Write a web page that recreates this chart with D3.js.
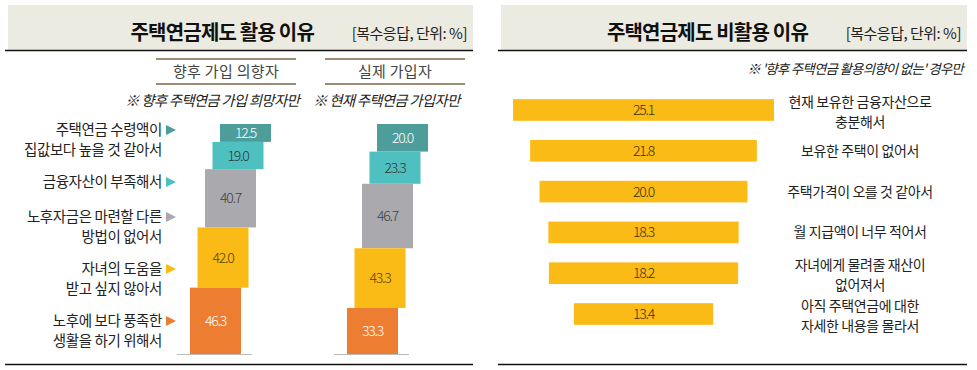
<!DOCTYPE html>
<html>
<head>
<meta charset="utf-8">
<script src="https://cdn.jsdelivr.net/npm/d3@7"></script>
<style>
  body { margin: 0; background: #fff; }
  svg { display: block; font-family: "Noto Sans CJK KR", "Noto Sans", sans-serif; }
</style>
</head>
<body>
<svg id="chart" width="977" height="370"></svg>
<script>
// left panel data
const useReasons = [
  ["주택연금 수령액이", "집값보다 높을 것 같아서"],
  ["금융자산이 부족해서"],
  ["노후자금은 마련할 다른", "방법이 없어서"],
  ["자녀의 도움을", "받고 싶지 않아서"],
  ["노후에 보다 풍족한", "생활을 하기 위해서"]
];
const groups = ["향후 가입 의향자", "실제 가입자"];
const groupNotes = ["※ 향후 주택연금 가입 희망자만", "※ 현재 주택연금 가입자만"];
const futureValues = [12.5, 19.0, 40.7, 42.0, 46.3];
const actualValues = [20.0, 23.3, 46.7, 43.3, 33.3];

// right panel data
const nonUseReasons = [
  ["현재 보유한 금융자산으로", "충분해서"],
  ["보유한 주택이 없어서"],
  ["주택가격이 오를 것 같아서"],
  ["월 지급액이 너무 적어서"],
  ["자녀에게 물려줄 재산이", "없어져서"],
  ["아직 주택연금에 대한", "자세한 내용을 몰라서"]
];
const nonUseValues = [25.1, 21.8, 20.0, 18.3, 18.2, 13.4];

const colors = ["#4d9e9b", "#4fc0c0", "#a9a9ae", "#fbbb16", "#ed7d31"];
const valueColors = ["#fff", "#333", "#444", "#5a4200", "#fff"];

const svg = d3.select("#chart");

// panel frames
function panelFrame(x0, x1, title) {
  svg.append("rect").attr("x", x0 + 3).attr("y", 5).attr("width", x1 - x0 - 3).attr("height", 45).attr("fill", "#ecebe2");
  svg.append("line").attr("x1", x0).attr("x2", x1).attr("y1", 50.5).attr("y2", 50.5).attr("stroke", "#111").attr("stroke-width", 1.5);
  svg.append("line").attr("x1", x0).attr("x2", x1).attr("y1", 364.5).attr("y2", 364.5).attr("stroke", "#111").attr("stroke-width", 1.5);
  svg.append("text").attr("x", x1 - 6).attr("y", 39).attr("text-anchor", "end")
    .attr("font-size", 15).attr("fill", "#222").attr("letter-spacing", -0.5).text("[복수응답, 단위: %]");
  svg.append("text").attr("x", x1 - 159).attr("y", 40).attr("text-anchor", "end")
    .attr("font-size", 20).attr("font-weight", 700).attr("fill", "#111").attr("letter-spacing", -0.8).text(title);
}
panelFrame(5, 473, "주택연금제도 활용 이유");
panelFrame(498, 967, "주택연금제도 비활용 이유");

// ---- left panel ----
const colX = d3.scaleBand().domain(groups).range([156, 465]).paddingInner(0.1716);
// each column is scaled to the same height
const columns = [futureValues, actualValues];
const yTop = 124, yBottom = 354, shift = 7.5, barW = 51;

groups.forEach((g, gi) => {
  const cx = colX(g), cw = colX.bandwidth();
  const header = svg.append("g");
  header.append("line").attr("x1", cx).attr("x2", cx + cw).attr("y1", 59).attr("y2", 59).attr("stroke", "#9d8c72").attr("stroke-width", 2);
  header.append("line").attr("x1", cx).attr("x2", cx + cw).attr("y1", 84).attr("y2", 84).attr("stroke", "#9d8c72").attr("stroke-width", 2);
  header.append("text").attr("x", cx + cw / 2).attr("y", 77).attr("text-anchor", "middle")
    .attr("font-size", 15).attr("fill", "#444").attr("letter-spacing", 0.3).text(g);

  const vals = columns[gi];
  const stack = d3.cumsum([0, ...vals]);
  const y = d3.scaleLinear().domain([0, stack[stack.length - 1]]).range([yTop, yBottom]);
  const baseX = gi === 0 ? 190 : 347;

  svg.append("line").attr("x1", baseX - 13).attr("x2", baseX + 62).attr("y1", yBottom + 0.5).attr("y2", yBottom + 0.5)
    .attr("stroke", "#bbb").attr("stroke-width", 1);

  const bars = svg.append("g").selectAll("g").data(vals).join("g");
  bars.append("rect")
    .attr("x", (d, i) => baseX + (vals.length - 1 - i) * shift)
    .attr("y", (d, i) => y(stack[i]))
    .attr("width", barW)
    .attr("height", d => y(d) - y(0))
    .attr("fill", (d, i) => colors[i]);
  bars.append("text")
    .attr("x", (d, i) => baseX + (vals.length - 1 - i) * shift + barW / 2)
    .attr("y", (d, i) => (y(stack[i]) + y(stack[i + 1])) / 2 + 5)
    .attr("text-anchor", "middle")
    .attr("font-size", 14).attr("font-weight", 300).attr("letter-spacing", -1.2)
    .attr("fill", (d, i) => valueColors[i])
    .text(d => d.toFixed(1));
});

// notes under headers
svg.append("text").attr("x", 125).attr("y", 106).attr("font-size", 14.5).attr("font-style", "italic")
  .attr("fill", "#222").attr("letter-spacing", -0.8).text(groupNotes[0]);
svg.append("text").attr("x", 313).attr("y", 106).attr("font-size", 14.5).attr("font-style", "italic")
  .attr("fill", "#222").attr("letter-spacing", -0.8).text(groupNotes[1]);

// category labels with triangle markers
const labelRowY = [130, 182, 217, 269, 321];
const labels = svg.append("g").selectAll("g").data(useReasons).join("g");
labels.append("text")
  .attr("x", 162).attr("text-anchor", "end")
  .attr("font-size", 14.5).attr("fill", "#222").attr("letter-spacing", -0.4)
  .selectAll("tspan").data((d, i) => d.map(t => ({t, i}))).join("tspan")
  .attr("x", 162)
  .attr("y", (d, j) => labelRowY[d.i] + 5 + j * 20)
  .text(d => d.t);
labels.append("path")
  .attr("d", (d, i) => `M166,${labelRowY[i] - 5}L176,${labelRowY[i]}L166,${labelRowY[i] + 5}Z`)
  .attr("fill", (d, i) => colors[i]);

// ---- right panel ----
const xR = d3.scaleLinear().domain([0, 25.1]).range([0, 261]);
const yR = d3.scaleBand().domain(d3.range(nonUseValues.length)).range([80, 344]).paddingInner(0.47).paddingOuter(0.47);
const centerX = 643.5;

svg.append("text").attr("x", 963).attr("y", 74).attr("text-anchor", "end")
  .attr("font-size", 13.5).attr("font-style", "italic").attr("fill", "#222").attr("letter-spacing", -0.8)
  .text("※ '향후 주택연금 활용의향이 없는' 경우만");

const rows = svg.append("g").selectAll("g").data(nonUseValues).join("g");
rows.append("rect")
  .attr("x", d => centerX - xR(d) / 2)
  .attr("y", (d, i) => yR(i))
  .attr("width", d => xR(d))
  .attr("height", yR.bandwidth())
  .attr("fill", "#fbbb16");
rows.append("text")
  .attr("x", centerX).attr("y", (d, i) => yR(i) + yR.bandwidth() / 2 + 5)
  .attr("text-anchor", "middle").attr("font-size", 14).attr("font-weight", 300).attr("letter-spacing", -1.2).attr("fill", "#3a3000")
  .text(d => d.toFixed(1));
rows.append("text")
  .attr("text-anchor", "middle").attr("font-size", 14).attr("fill", "#222").attr("letter-spacing", -0.4)
  .selectAll("tspan").data((d, i) => nonUseReasons[i].map((t, j, a) => ({t, i, j, n: a.length}))).join("tspan")
  .attr("x", 860)
  .attr("y", d => yR(d.i) + yR.bandwidth() / 2 + 5 + (d.n === 1 ? 0 : 2 + (d.j === 0 ? -10 : 10)))
  .text(d => d.t);
</script>
</body>
</html>
